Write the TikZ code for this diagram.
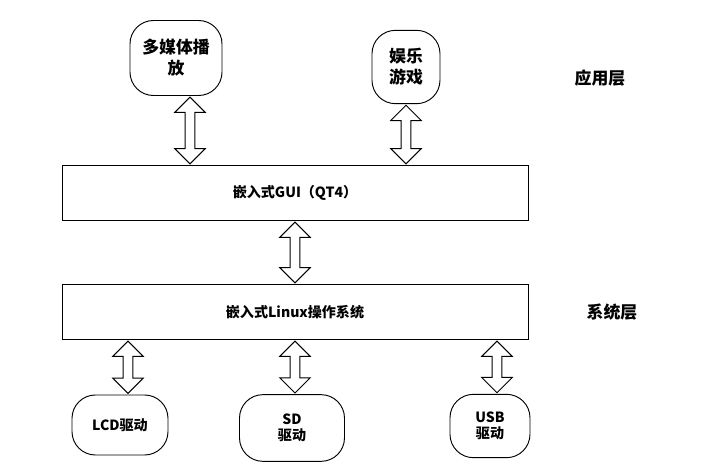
\documentclass[tikz,border=0pt]{standalone}
\usepackage{fontspec}
\setmainfont{Liberation Serif}
\newfontfamily\cjk{Noto Sans CJK SC}
\usetikzlibrary{calc,shapes.arrows}
\tikzset{
  app/.style={draw,thick,rounded corners=20pt,align=center,font=\cjk\Large\bfseries,inner sep=4pt},
  layer/.style={draw,thick,minimum width=13.98cm,minimum height=1.65cm,font=\cjk\large\bfseries},
  tag/.style={font=\cjk\Large\bfseries},
  dbl/.style={draw,thick,fill=white,shape=double arrow,rotate=90,double arrow head extend=5pt,minimum width=26pt,inner sep=2pt}
}
% hollow double arrow from coordinate #1 up to coordinate #2
\newcommand\linkarrow[2]{%
  \path let \p1=($(#1)-(#2)$), \n1={veclen(\x1,\y1)-2pt} in
    node[dbl,minimum height=\n1] at ($(#1)!0.5!(#2)$) {};}
\begin{document}
\begin{tikzpicture}[x=0.03cm,y=-0.03cm]
\useasboundingbox (0,0) rectangle (714,475);

\node[app,minimum width=2.76cm,minimum height=2.25cm] (media) at (176,58) {多媒体播\\放};
\node[app,minimum width=2.04cm,minimum height=2.2cm] (game) at (406,67) {娱乐\\游戏};
\node[tag] (apptag) at (600,78) {应用层};

\node[layer] (gui) at (295,193) {嵌入式GUI（QT4）};
\node[layer] (os) at (295,312) {嵌入式Linux操作系统};
\node[tag] (systag) at (612,312) {系统层};

\node[app,font=\cjk\large\bfseries,minimum width=2.88cm,minimum height=1.8cm] (lcd) at (120,425) {LCD驱动};
\node[app,font=\cjk\large\bfseries,minimum width=3.15cm,minimum height=2.0cm] (sd) at (292,428) {SD\\驱动};
\node[app,font=\cjk\large\bfseries,minimum width=2.4cm,minimum height=1.9cm] (usb) at (490,426) {USB\\驱动};

% double arrows between the levels
\coordinate (a1) at ($(media.south)+(14,0)$);
\coordinate (a2) at (a1|-gui.north);
\linkarrow{a1}{a2}
\coordinate (b1) at (game.south);
\coordinate (b2) at (b1|-gui.north);
\linkarrow{b1}{b2}
\linkarrow{gui.south}{os.north}
\coordinate (c1) at ($(lcd.north)+(8,0)$);
\coordinate (c2) at (c1|-os.south);
\linkarrow{c1}{c2}
\coordinate (d1) at ($(sd.north)+(3,0)$);
\coordinate (d2) at (d1|-os.south);
\linkarrow{d1}{d2}
\coordinate (e1) at ($(usb.north)+(7,0)$);
\coordinate (e2) at (e1|-os.south);
\linkarrow{e1}{e2}
\end{tikzpicture}
\end{document}
